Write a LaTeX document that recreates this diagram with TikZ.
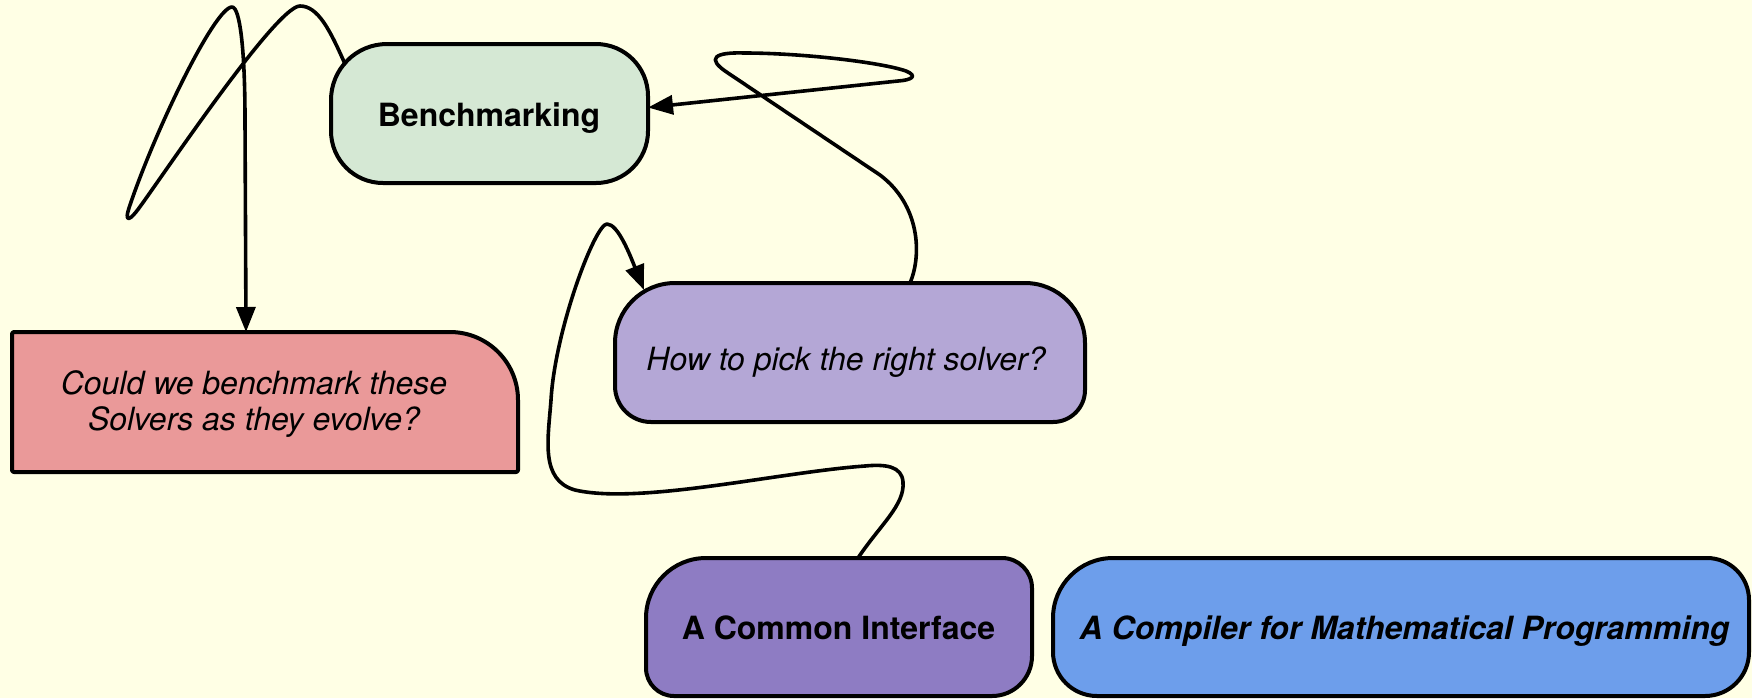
\documentclass[tikz,border=0pt]{standalone}
\usepackage{fontspec}
\setmainfont{TeX Gyre Heros}
\usetikzlibrary{arrows.meta,calc,backgrounds}

\definecolor{paper}{HTML}{FFFFE5}
\definecolor{benchfill}{HTML}{D5E8D4}
\definecolor{redfill}{HTML}{EA9999}
\definecolor{pickfill}{HTML}{B4A7D6}
\definecolor{commonfill}{HTML}{8E7CC3}
\definecolor{bluefill}{HTML}{6D9EEB}

% outline of a box with its own radius on each corner:
% #1 node, #2 top left, #3 top right, #4 bottom right, #5 bottom left
\newcommand\cornerpath[5]{([xshift=#2]#1.north west) -- ([xshift=-#3]#1.north east)
  arc[start angle=90,end angle=0,radius=#3] -- ([yshift=#4]#1.south east)
  arc[start angle=0,end angle=-90,radius=#4] -- ([xshift=#5]#1.south west)
  arc[start angle=-90,end angle=-180,radius=#5] -- ([yshift=-#2]#1.north west)
  arc[start angle=180,end angle=90,radius=#2] -- cycle}

\begin{document}
\begin{tikzpicture}[x=0.5pt,y=-0.5pt,
  shapebox/.style={rectangle,inner sep=0pt,outer sep=0pt},
  lbl/.style={inner sep=0pt,anchor=base},
  wire/.style={line width=1.8pt,line join=round,line cap=round},
  tip/.style={-{Triangle[length=12.5pt,width=9.5pt]}},
  outline/.style={line width=2pt,line join=round}]

\useasboundingbox (0,0) rectangle (1752,698);

% box frames (drawn on the background layer below)
\node[shapebox,minimum width=158.5pt,minimum height=69.5pt] (bench)  at (489.5,113.5) {};
\node[shapebox,minimum width=253pt,minimum height=70pt]     (red)    at (265,402) {};
\node[shapebox,minimum width=235pt,minimum height=69.5pt]   (pick)   at (850,352.5) {};
\node[shapebox,minimum width=193pt,minimum height=69pt]     (common) at (839,627) {};
\node[shapebox,minimum width=348pt,minimum height=69pt]     (blue)   at (1401,627) {};

\begin{scope}[on background layer]
  \fill[paper] (0,0) rectangle (1752,698);
  \filldraw[outline,fill=benchfill]  \cornerpath{bench}{28pt}{26pt}{26pt}{26pt};
  \filldraw[outline,fill=redfill]    \cornerpath{red}{1pt}{34pt}{1pt}{1pt};
  \filldraw[outline,fill=pickfill]   \cornerpath{pick}{30pt}{30pt}{16pt}{18pt};
  \filldraw[outline,fill=commonfill] \cornerpath{common}{30pt}{15pt}{20pt}{14pt};
  \filldraw[outline,fill=bluefill]   \cornerpath{blue}{30pt}{21pt}{22pt}{22pt};
\end{scope}

% labels
\node[lbl,font=\fontsize{16}{18}\selectfont\bfseries] (benchT) at (489,126) {Benchmarking};
\node[inner sep=0pt,align=center,font=\fontsize{16}{18}\selectfont\itshape] (redT) at (254,403.6)
  {Could we benchmark these\\Solvers as they evolve?};
\node[lbl,font=\fontsize{16}{18}\selectfont\itshape] (pickT) at (846,370) {How to pick the right solver?};
\node[lbl,font=\fontsize{16}{18}\selectfont\bfseries] (commonT) at (838.5,639) {A Common Interface};
\node[lbl,font=\fontsize{16}{18}\selectfont\bfseries\itshape] (blueT) at (1404.5,639) {A Compiler for Mathematical Programming};

% Benchmarking -> red question
\draw[wire,tip] ($(bench.north west)+(14,20)$) .. controls (330,30) and (318,6) .. (300,6)
  .. controls (275,6) and (150,195) .. (136,212)
  .. controls (128,222) and (125,220) .. (129,208)
  .. controls (155,130) and (215,7) .. (232,7)
  .. controls (240,7) and (245,50) .. (245,120)
  -- ($(red.north west)+(234,0)$);

% solver question -> Benchmarking
\draw[wire,tip] ($(pick.north west)+(295,0)$) .. controls (922,255) and (920,205) .. (880,175)
  -- (728,73)
  .. controls (705,58) and (715,52) .. (745,53)
  .. controls (800,53) and (880,62) .. (906,71)
  .. controls (918,76) and (912,80) .. (898,81)
  -- ([yshift=3pt]bench.east);

% common interface -> solver question
\draw[wire,tip] ($(common.north west)+(212,0)$) .. controls (880,525) and (905,505) .. (903,482)
  .. controls (902,466) and (885,464) .. (865,466)
  .. controls (780,472) and (640,505) .. (575,490)
  .. controls (540,480) and (548,440) .. (551,400)
  .. controls (555,330) and (595,224) .. (607,224)
  .. controls (618,224) and (630,255) .. ($(pick.north west)+(29,7)$);
\end{tikzpicture}
\end{document}
